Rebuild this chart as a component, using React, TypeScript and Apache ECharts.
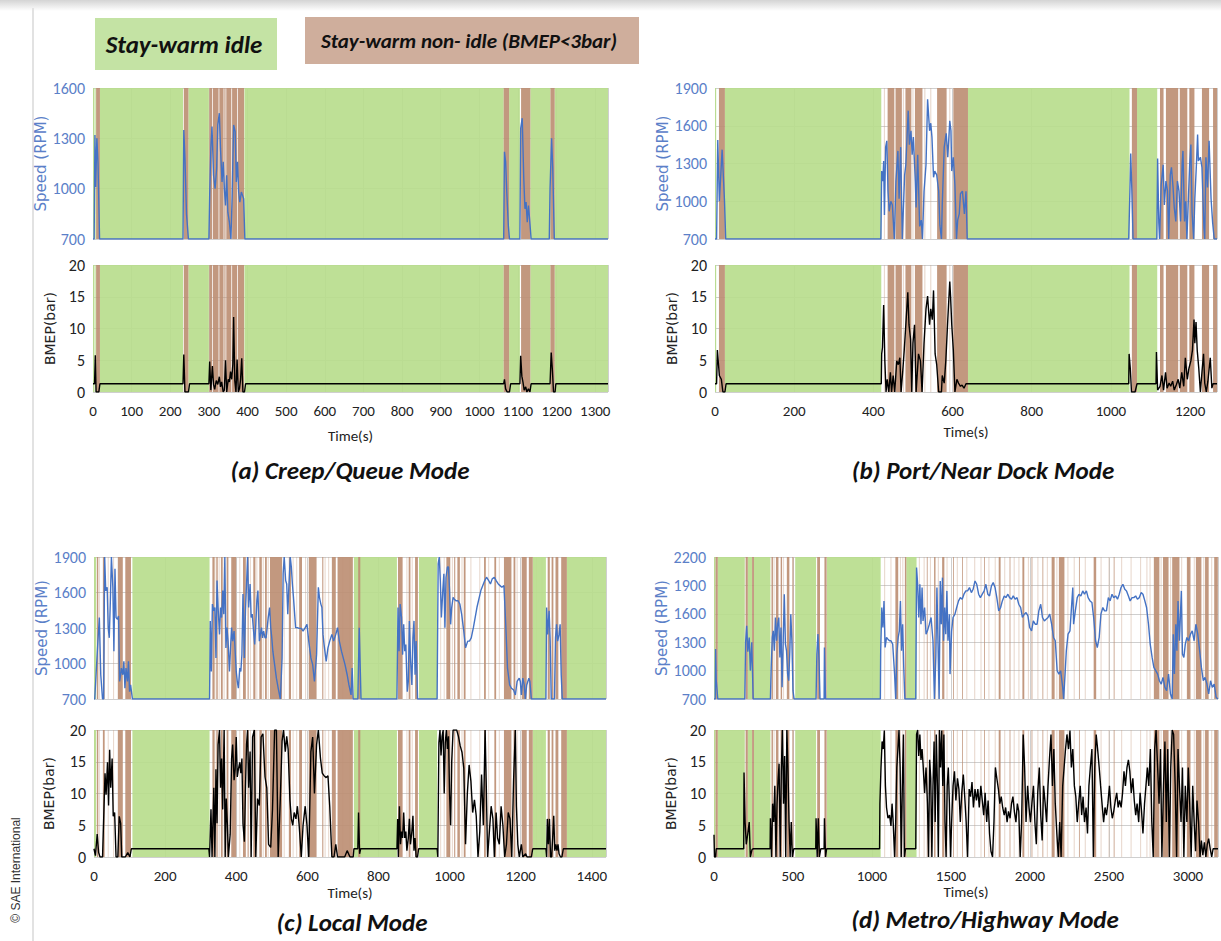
import React, { useEffect, useRef } from "react";
import * as echarts from "echarts";

// ---------------- DATA ----------------
// Panel (a) Creep/Queue
const speedA: number[][] = [[0,700],[3,700],[5,1320],[7,1010],[10,1300],[13,1150],[17,700],
[233,700],[235,1350],[238,1180],[242,850],[247,700],
[300,700],[302,960],[305,1240],[308,1370],[312,1080],[316,1000],[320,1120],[323,1380],[327,1450],[330,1240],[334,1040],[337,1160],[340,1000],[343,900],[346,1080],[349,860],[353,800],[357,700],[360,940],[364,1380],[368,1340],[371,1040],[374,1160],[377,980],[380,920],[384,980],[387,960],[390,940],[393,700],
[1063,700],[1065,1220],[1068,1160],[1071,980],[1075,780],[1078,700],
[1105,700],[1107,1360],[1111,1420],[1115,1060],[1118,880],[1121,920],[1124,800],[1127,900],[1130,820],[1134,700],
[1181,700],[1183,1000],[1187,1300],[1190,1120],[1194,700],[1333,700]];
const bmepA: number[][] = [[0,1.3],[4,1.3],[6,5.8],[8,0],[15,0],[18,1.3],
[233,1.3],[235,5.9],[238,0],[247,0],[250,1.3],
[300,1.3],[302,4.8],[305,0.3],[309,4.1],[312,1.2],[315,0.4],[319,1.8],[323,1.2],[327,2.4],[330,0.8],[333,1.6],[337,0],[340,0.3],[343,5],[346,0],[350,2],[353,1.6],[356,3.2],[359,2],[362,4.4],[364,11.8],[367,1.8],[370,0],[373,5.1],[376,0],[379,0.5],[382,2],[385,5.3],[388,0],[392,0],[395,1.3],
[1063,1.3],[1065,2],[1068,0.5],[1072,0],[1078,0],[1081,1.3],
[1105,1.3],[1107,5.7],[1110,2.5],[1113,1.5],[1116,0.3],[1120,0.8],[1123,0],[1127,0.5],[1131,0],[1134,1.3],
[1183,1.3],[1186,6.2],[1189,3.5],[1192,0],[1196,0],[1198,1.3],[1333,1.3]];
const idleA: number[][] = [[0,4],[6,8],[18,233],[247,300],[392,1063],[1077,1105],[1132,1184],[1195,1333]];
const nonIdleA: number[][] = [[8,18],[235,247],[301,308],[310,325],[327,338],[340,343],[345,358],[360,373],[375,391],[1063,1077],[1108,1132],[1184,1195]];
const thinA: number[] = [];

// Panel (b) Port/Near Dock
const speedB: number[][] = [[0,700],[4,700],[7,1487],[11,1000],[18,1410],[24,1000],[27,700],
[419,700],[421,1240],[424,1160],[426,1320],[428,890],[431,1430],[434,1480],[437,1080],[440,920],[444,1000],[448,970],[453,700],[457,1160],[462,1400],[465,1020],[469,1430],[473,700],[479,1210],[482,1290],[488,1720],[491,1450],[495,1560],[498,1370],[501,1510],[506,1160],[508,950],[512,1370],[515,1020],[517,800],[521,850],[524,700],[528,1080],[533,1290],[537,1810],[542,1560],[545,1620],[548,1510],[552,1190],[555,1240],[560,1210],[565,1080],[568,810],[572,700],[574,970],[579,1430],[584,1540],[588,1350],[593,1640],[596,1560],[598,1240],[602,1350],[606,1130],[610,700],[613,850],[617,900],[620,1060],[625,1080],[630,900],[634,1080],[637,700],
[1045,700],[1048,1080],[1050,1380],[1053,1080],[1056,700],
[1116,700],[1118,1340],[1121,830],[1123,700],[1127,1130],[1132,1290],[1135,970],[1139,1160],[1143,1080],[1146,700],[1150,1210],[1153,1270],[1157,1110],[1160,950],[1164,840],[1168,1160],[1172,1080],[1176,840],[1180,1300],[1182,1400],[1186,840],[1189,1000],[1192,700],[1196,1050],[1199,1290],[1202,1450],[1205,910],[1209,700],[1212,1020],[1216,1290],[1219,1530],[1221,1320],[1226,1350],[1230,1270],[1235,790],[1237,700],[1240,1350],[1244,1110],[1248,1480],[1253,1020],[1257,830],[1261,700],[1268,700]];
const bmepB: number[][] = [[0,1.3],[4,1.3],[6,6.6],[11,2.6],[16,2],[20,0],[25,0],[28,1.3],
[420,1.3],[421,6],[423,7],[426,13.7],[429,4.9],[432,0],[435,2],[439,0],[443,3.1],[446,0],[450,2.6],[454,0],[459,4.9],[463,4.3],[467,5.4],[470,0],[474,3.1],[478,6.6],[482,10.6],[487,15.7],[490,10.6],[494,8.3],[497,0],[500,7.7],[504,10.6],[508,0],[514,6],[519,4.9],[523,0],[528,7.7],[533,13.1],[537,15.1],[542,10.6],[545,13.1],[549,11.4],[552,16],[556,6],[560,4.3],[565,0],[572,0],[574,2.6],[579,1.4],[583,4.9],[588,11.4],[593,17.4],[595,15.1],[598,10.6],[602,6.6],[606,0],[611,2],[615,1.4],[620,0.9],[624,1.1],[629,0.6],[634,1.3],
[1045,1.3],[1046,6],[1049,3.7],[1052,0],[1061,0],[1066,1.3],
[1114,1.3],[1115,6.3],[1118,0.3],[1124,0.9],[1129,2.6],[1133,0.3],[1138,3.1],[1142,0.6],[1147,1.4],[1151,0.9],[1156,1.7],[1160,0.3],[1165,1.1],[1170,2],[1174,0.6],[1179,3.1],[1184,0.9],[1188,5.4],[1193,2],[1197,3.7],[1202,4.9],[1206,6.6],[1210,11.4],[1212,7.7],[1215,11],[1218,6.6],[1222,3.7],[1226,0],[1230,3.1],[1234,6],[1237,1.4],[1241,0],[1245,1.7],[1251,5.4],[1255,0.6],[1258,1.3],[1268,1.3]];
const idleB: number[][] = [[0,3],[25,420],[639,1047],[1066,1117]];
const nonIdleB: number[][] = [[10,25],[436,453],[456,472],[481,496],[505,524],[561,585],[602,639],[1053,1066],[1124,1133],[1139,1170],[1174,1193],[1198,1211],[1230,1248],[1258,1268]];
const thinB: number[] = [428, 476, 500, 530, 545, 593];

// Panel (c) Local
const speedC: number[][] = [[0,700],[2,700],[11,1189],[15,1388],[19,905],[24,700],[27,700],[30,1900],[33,1616],[37,1644],[40,1303],[43,1217],[46,1530],[49,1900],[53,1644],[56,1104],[59,1800],[62,1388],[66,1374],[69,1402],[72,848],[75,905],[77,961],[81,905],[84,1018],[87,791],[90,961],[94,848],[97,1018],[100,762],[103,819],[108,700],
[325,700],[327,1360],[330,933],[333,1502],[337,1445],[340,1473],[343,1047],[346,1701],[349,1473],[353,1246],[356,1473],[359,1388],[362,1616],[365,1417],[368,1900],[371,1132],[374,1303],[377,1189],[381,933],[384,1132],[387,1303],[390,1189],[394,1274],[397,1104],[400,933],[403,848],[406,791],[410,961],[413,933],[416,1075],[419,1587],[423,1047],[426,1445],[429,1672],[432,1900],[435,1473],[439,1672],[442,1388],[445,1417],[448,1303],[452,1161],[455,1331],[458,1530],[461,1616],[465,1189],[468,1246],[471,1303],[474,1217],[477,1274],[481,1217],[484,1217],[487,1303],[490,1388],[494,1473],[497,1303],[500,1217],[503,1104],[508,990],[513,876],[518,791],[524,700],[529,1047],[532,1758],[535,1900],[539,1701],[542,1672],[545,1417],[548,1644],[552,1900],[555,1815],[558,1672],[561,1559],[567,1303],[572,1303],[577,1297],[583,1297],[588,1274],[594,1303],[599,1331],[604,1189],[610,1047],[615,990],[620,848],[626,1075],[631,1644],[634,1559],[638,1502],[641,1473],[644,1246],[647,1161],[653,1018],[658,1132],[663,1189],[669,1246],[674,1189],[680,1246],[685,1303],[690,1189],[696,1104],[701,1047],[706,990],[712,905],[717,819],[723,734],[726,961],[729,700],
[742,700],[746,1303],[751,700],
[852,700],[855,1473],[858,1104],[861,1502],[865,1388],[868,1075],[871,1331],[874,1104],[877,1161],[881,762],[884,848],[887,1360],[890,1047],[894,819],[897,1217],[900,1360],[903,905],[906,1189],[910,700],
[965,700],[968,1843],[971,1900],[974,1701],[977,1388],[981,1616],[984,1758],[987,1303],[990,1729],[994,1815],[997,1815],[1000,1616],[1003,1331],[1006,1473],[1010,1559],[1013,1545],[1018,1530],[1024,1530],[1029,1502],[1034,1417],[1040,1274],[1045,1132],[1051,1189],[1056,1189],[1061,1217],[1067,1303],[1077,1473],[1088,1616],[1099,1701],[1104,1729],[1110,1701],[1115,1672],[1120,1715],[1126,1729],[1131,1701],[1137,1672],[1142,1658],[1147,1644],[1153,1658],[1158,1331],[1163,961],[1169,819],[1174,791],[1180,777],[1185,734],[1190,848],[1196,876],[1199,848],[1202,734],[1206,876],[1210,819],[1213,700],[1217,819],[1223,876],[1226,848],[1230,700],
[1271,700],[1273,1473],[1276,1246],[1280,1445],[1283,1189],[1286,700],[1295,700],[1298,1217],[1301,1331],[1304,1189],[1308,1246],[1311,1331],[1314,905],[1317,700],[1440,700]];
const bmepC: number[][] = [[0,1.3],[4,0.2],[9,3.6],[13,0.7],[17,0],[24,0],[28,7.5],[31,13.2],[34,9.8],[38,14.9],[41,8.1],[44,16.9],[47,10.9],[51,15.5],[54,6.4],[58,7],[62,0],[67,0],[71,6.4],[75,5.3],[78,0],[88,0],[95,0.7],[101,0],[105,1.3],
[323,1.3],[325,0],[329,7.5],[332,0],[337,10.9],[340,0],[343,13.8],[346,5.3],[349,17.7],[353,20],[356,10.9],[359,15.5],[362,7.5],[366,20],[369,0],[372,9.2],[375,5.3],[378,0],[383,3.6],[387,15.5],[390,17.7],[394,12.1],[397,13.8],[400,18.9],[403,12.6],[406,13.8],[410,14.9],[413,13.2],[416,15.5],[419,5.3],[423,2.4],[426,10.9],[429,17.7],[432,20],[435,10.9],[439,16.6],[442,0],[446,18.9],[451,20],[455,0],[460,9.2],[465,8.1],[470,18.9],[475,19.4],[481,12.6],[486,10.9],[491,2],[497,1.5],[502,7.5],[508,20],[513,20],[518,0],[524,9.2],[529,18.3],[533,20],[538,16.6],[542,19],[546,17],[551,9],[555,6],[559,5],[563,7],[568,6],[572,8],[577,5],[583,0],[588,5],[594,8],[599,5],[604,0],[610,16.6],[615,18.9],[620,10],[626,17.7],[631,20],[637,15.5],[642,13.2],[647,12.8],[653,12.5],[658,12.8],[663,8],[669,0],[675,0],[680,2],[685,0],[705,0],[712,1],[720,0],[729,0],[731,1.3],[742,1.3],[744,7],[747,0.5],[750,1.3],
[852,1.3],[854,6],[856,0],[859,8],[862,2],[865,4],[868,3],[871,7],[874,3],[877,4],[880,1],[884,3],[887,6],[890,2],[894,4],[897,6.5],[900,1],[903,3],[906,0],[910,0],[913,1.3],
[965,1.3],[967,0],[970,18],[973,20],[976,16],[979,19],[982,20],[985,10],[988,18],[991,20],[994,17],[997,19],[1000,10],[1003,5],[1006,15],[1010,20],[1015,20],[1020,20],[1025,19],[1030,17.5],[1035,16.5],[1040,14],[1045,2],[1050,10],[1055,14.5],[1060,12],[1065,7],[1070,9],[1075,6.5],[1080,0],[1085,4],[1090,13],[1095,5],[1100,20],[1103,12],[1107,0],[1112,4],[1117,8],[1122,6],[1126,0],[1131,7],[1135,3],[1140,2],[1145,8],[1150,5],[1155,0],[1160,2],[1165,7],[1170,6],[1175,0],[1180,12],[1185,20],[1188,8],[1192,2],[1196,0],[1202,2],[1206,0],[1214,0.5],[1218,0],[1230,0],[1234,1.3],
[1271,1.3],[1273,0],[1275,6],[1278,2],[1281,6],[1284,0],[1287,0],[1290,3],[1293,6.5],[1296,1],[1299,2],[1302,1],[1305,2],[1308,0.5],[1312,0],[1316,0],[1320,1.3],[1440,1.3]];
const idleC: number[][] = [[0,6],[108,325],[731,852],[914,965],[1234,1271],[1330,1440]];
const nonIdleC: number[][] = [[8,12],[25,30],[67,81],[88,104],[333,339],[344,348],[357,362],[373,378],[386,400],[419,427],[432,435],[448,454],[465,472],[481,486],[495,529],[548,554],[577,585],[604,626],[642,645],[669,680],[685,728],[743,749],[855,868],[885,890],[903,911],[991,1002],[1013,1016],[1022,1029],[1040,1045],[1097,1102],[1126,1131],[1153,1174],[1180,1185],[1203,1217],[1223,1234],[1276,1282],[1287,1292],[1298,1306],[1314,1330]];
const thinC: number[] = [15, 40, 55, 340, 352, 366, 392, 410, 440, 458, 476, 490, 535, 560, 570, 595, 650, 660, 700, 720, 880, 895, 975, 985, 1008, 1035, 1060, 1085, 1110, 1140, 1190, 1245, 1260];

// Panel (d) Metro/Highway
const speedD: number[][] = [[0,700],[8,700],[10,1227],[14,900],[24,700],
[195,700],[200,1297],[207,1473],[214,1200],[223,1350],[230,1000],[239,1300],[248,700],
[357,700],[362,1034],[369,1350],[375,1420],[382,1209],[389,1561],[396,1315],[403,1490],[410,1561],[417,1139],[424,1455],[431,823],[438,1315],[445,1807],[452,1280],[459,1209],[466,963],[473,893],[480,1209],[486,1596],[493,1315],[500,788],[507,700],
[646,700],[651,1174],[658,1385],[665,1104],[671,700],
[697,700],[699,1244],[706,700],
[1053,700],[1055,1209],[1062,1666],[1069,1455],[1076,1736],[1083,1244],[1092,1350],[1101,1332],[1111,1315],[1120,1315],[1131,1280],[1143,963],[1150,700],[1157,1174],[1166,1350],[1173,1420],[1180,1736],[1187,1209],[1194,1490],[1201,1034],[1208,700],
[1277,700],[1282,2088],[1289,1912],[1296,1561],[1303,1912],[1310,1490],[1317,1877],[1323,1525],[1333,1666],[1342,1385],[1351,1420],[1363,1490],[1374,1561],[1386,1315],[1395,700],[1404,1139],[1411,1877],[1418,1280],[1425,700],[1432,1947],[1439,1490],[1446,1982],[1453,1315],[1460,1666],[1467,1385],[1474,1842],[1481,1315],[1490,1596],[1494,963],[1504,1420],[1513,1561],[1525,1596],[1536,1666],[1548,1736],[1559,1771],[1571,1754],[1582,1807],[1594,1842],[1605,1842],[1617,1877],[1629,1824],[1640,1859],[1652,1947],[1663,1912],[1675,1807],[1686,1771],[1698,1807],[1710,1842],[1721,1912],[1733,1807],[1744,1789],[1756,1894],[1767,1930],[1779,1877],[1790,1771],[1802,1631],[1814,1666],[1825,1736],[1837,1789],[1848,1771],[1860,1807],[1871,1771],[1883,1754],[1894,1789],[1906,1754],[1918,1771],[1929,1701],[1941,1666],[1952,1561],[1964,1596],[1975,1613],[1987,1578],[1998,1455],[2010,1420],[2021,1525],[2033,1490],[2045,1490],[2056,1631],[2068,1701],[2079,1561],[2091,1525],[2102,1543],[2114,1561],[2125,1596],[2137,1490],[2149,1350],[2160,1315],[2172,999],[2183,963],[2194,999],[2207,823],[2213,700],[2222,963],[2230,1209],[2241,1385],[2253,1420],[2264,1701],[2271,1877],[2276,1490],[2287,1631],[2299,1771],[2310,1807],[2322,1789],[2334,1842],[2345,1807],[2357,1842],[2368,1771],[2380,1736],[2392,1719],[2403,1561],[2415,1315],[2426,1244],[2438,1350],[2449,1596],[2461,1666],[2472,1631],[2484,1631],[2496,1771],[2507,1736],[2519,1807],[2530,1771],[2542,1789],[2554,1754],[2565,1807],[2576,1877],[2588,1912],[2600,1859],[2611,1842],[2623,1789],[2634,1736],[2646,1771],[2657,1771],[2669,1789],[2680,1754],[2692,1771],[2704,1824],[2715,1807],[2727,1736],[2738,1666],[2750,1490],[2761,1280],[2773,1139],[2784,1034],[2796,999],[2808,963],[2819,893],[2831,858],[2842,928],[2854,823],[2865,788],[2877,963],[2889,753],[2900,700],[2907,1385],[2914,963],[2923,1490],[2930,1209],[2937,1736],[2946,1315],[2958,1842],[2965,1174],[2974,1139],[2983,1280],[2993,1350],[3004,1315],[3016,1385],[3027,1420],[3039,1315],[3050,1490],[3062,1385],[3074,1209],[3085,1034],[3097,893],[3108,928],[3120,858],[3131,753],[3143,893],[3154,823],[3166,858],[3178,718],[3189,700]];
const bmepD: number[][] = [[0,3.5],[3,0],[10,0],[14,1.3],
[188,1.3],[190,13.3],[197,5.5],[204,2],[214,3.7],[223,5.5],[230,0],[241,1.2],[250,1.3],
[355,1.3],[357,6.1],[364,0],[371,8.4],[378,5.5],[385,11.2],[392,0],[399,8.4],[406,12.4],[412,14.7],[419,0],[426,13.5],[433,20],[440,8.4],[447,15.9],[454,0],[461,20],[468,14.1],[475,5.5],[482,0],[489,5.5],[496,0],[505,1.3],
[644,1.3],[646,6.1],[653,0],[660,6.1],[667,0],[676,1.3],
[697,1.3],[699,6.1],[706,0],[713,1.3],
[1048,1.3],[1050,8.4],[1057,14.1],[1064,18.2],[1071,17],[1078,19.9],[1085,11.2],[1092,7.8],[1101,6.1],[1111,6.6],[1120,4.9],[1127,8.4],[1134,5.5],[1143,0],[1150,5.5],[1157,14.1],[1164,17],[1171,20],[1178,14.1],[1185,0],[1192,11.2],[1199,19.3],[1205,0],[1212,1.3],
[1277,1.3],[1282,19.3],[1289,20],[1296,15.9],[1303,19.3],[1310,15.3],[1317,17],[1323,14.7],[1333,10.1],[1342,14.1],[1351,8.4],[1358,0],[1365,15.3],[1372,12.4],[1379,0],[1386,11.2],[1393,18.2],[1400,5.5],[1407,19.3],[1414,11.2],[1420,0],[1427,20],[1434,14.1],[1441,19.9],[1448,11.2],[1455,19.3],[1462,5.5],[1469,0],[1476,11.2],[1483,14.1],[1490,8.4],[1497,0],[1504,5.5],[1513,11.2],[1522,13.5],[1531,8.9],[1541,12.4],[1550,10.7],[1559,5.5],[1568,10.1],[1578,13],[1587,9.5],[1596,5.5],[1605,0],[1615,10.7],[1624,9.5],[1633,11.8],[1642,7.8],[1652,10.7],[1661,8.9],[1670,10.7],[1679,7.8],[1689,11.2],[1698,8.9],[1707,6.6],[1716,10.1],[1726,5.5],[1735,8.9],[1744,3.7],[1753,0.9],[1763,0],[1772,5.5],[1781,14.1],[1790,12.4],[1800,10.7],[1809,8.4],[1818,9.5],[1827,7.8],[1837,6.6],[1846,7.8],[1855,5.5],[1864,7.2],[1874,6.1],[1883,8.4],[1892,9.5],[1901,7.2],[1911,5.5],[1920,8.4],[1929,7.2],[1938,0],[1947,5.5],[1957,19.3],[1966,14.1],[1975,5.5],[1985,11.2],[1994,7.8],[2003,5.5],[2012,8.4],[2022,11.2],[2031,5.5],[2040,2],[2049,10.1],[2059,14.1],[2068,6.6],[2077,2.6],[2086,11.2],[2096,8.4],[2105,5.5],[2114,11.2],[2123,15.3],[2133,19.3],[2142,11.2],[2151,17],[2160,8.4],[2170,3.7],[2179,0],[2188,5.5],[2197,0],[2207,11.2],[2216,14.1],[2225,17],[2234,19.3],[2244,17],[2253,19.9],[2262,14.1],[2271,17],[2281,11.2],[2290,9.5],[2299,5.5],[2308,8.4],[2318,11.2],[2327,6.6],[2336,9.5],[2345,5.5],[2355,7.8],[2364,3.7],[2373,11.2],[2382,14.1],[2392,17],[2401,0],[2410,14.1],[2419,19.3],[2428,17],[2438,14.1],[2447,11.2],[2456,8.4],[2466,5.5],[2475,7.8],[2484,6.6],[2493,8.4],[2503,11.2],[2512,7.8],[2521,6.1],[2530,7.2],[2540,8.9],[2549,10.1],[2558,7.8],[2567,8.9],[2577,7.8],[2586,10.1],[2595,13.5],[2604,11.2],[2614,14.1],[2623,15.3],[2632,13.5],[2641,10.1],[2651,12.4],[2660,8.9],[2669,6.6],[2678,8.4],[2688,5.5],[2697,10.1],[2706,7.2],[2715,3.7],[2725,8.4],[2734,11.2],[2743,14.1],[2752,11.2],[2762,17],[2771,5.5],[2780,0],[2789,17],[2798,20],[2808,14.1],[2817,8.4],[2826,17],[2835,0],[2845,11.2],[2854,18.2],[2863,5.5],[2872,17],[2882,0],[2891,14.1],[2900,20],[2909,19.3],[2919,11.2],[2928,0],[2937,17],[2946,11.2],[2956,5.5],[2965,14.1],[2974,0],[2983,11.2],[2993,5.5],[3002,14.1],[3011,8.4],[3020,0],[3030,11.2],[3039,5.5],[3048,0.9],[3057,8.9],[3067,5.5],[3076,0],[3085,2.6],[3094,0.3],[3104,2.3],[3113,0],[3122,2],[3131,2.9],[3140,1.4],[3150,0],[3159,1.3],[3190,1.3]];
const idleD: number[][] = [[0,10],[24,195],[214,241],[253,357],[514,646],[715,1055],[1217,1282]];
const nonIdleD: number[][] = [[10,24],[200,214],[241,253],[364,373],[392,408],[422,431],[461,477],[496,503],[653,671],[699,713],[1148,1166],[1208,1217],[1347,1352],[1393,1402],[1444,1458],[1513,1518],[1571,1576],[1710,1715],[1802,1814],[1871,1876],[1952,1964],[2010,2015],[2079,2084],[2137,2156],[2183,2218],[2310,2315],[2403,2419],[2530,2535],[2784,2819],[2842,2877],[2900,2946],[2993,3016],[3050,3085],[3108,3131],[3166,3189]];
const thinD: number[] = [380, 440, 470, 1080, 1120, 1180, 1195, 1240, 1300, 1330, 1370, 1420, 1475, 1540, 1600, 1650, 1690, 1740, 1780, 1840, 1900, 1930, 1990, 2050, 2110, 2170, 2240, 2280, 2350, 2450, 2500, 2580, 2640, 2700, 2740, 2760, 2830, 2890, 2960, 3040, 3100, 3150];

const legendLabels = ["Stay-warm idle", "Stay-warm non- idle (BMEP<3bar)"];
const panelTitles = ["(a) Creep/Queue Mode", "(b) Port/Near Dock Mode", "(c) Local Mode", "(d) Metro/Highway Mode"];

// ---------------- STYLE / LAYOUT ----------------
const FONT = "Carlito, 'Liberation Sans Narrow', 'Open Sans', sans-serif";
const GREEN = "rgba(185,221,141,0.92)";
const BROWN = "rgba(189,143,116,0.92)";
const THIN = "rgba(200,160,135,0.4)";
const BLUE = "#4472c4";
const BLUE_LABEL = "#5b80c8";
const GRIDC = "#cfcfcf";
const OFF = 100; // display offset so tick values align with interval

const panels = [
  { speed: speedA, bmep: bmepA, idle: idleA, non: nonIdleA, thin: thinA, thinHalf: 2, xMax: 1333, xInt: 100, sMin: 700, sMax: 1600,
    sg: [93, 88, 515, 151], bg: [93, 265, 515, 127], nameGap: 36, tGap: 36 },
  { speed: speedB, bmep: bmepB, idle: idleB, non: nonIdleB, thin: thinB, thinHalf: 1.5, xMax: 1268, xInt: 200, sMin: 700, sMax: 1900,
    sg: [715, 88, 502, 151], bg: [715, 265, 502, 127], nameGap: 36, tGap: 32 },
  { speed: speedC, bmep: bmepC, idle: idleC, non: nonIdleC, thin: thinC, thinHalf: 1.5, xMax: 1440, xInt: 200, sMin: 700, sMax: 1900,
    sg: [94, 557, 512, 142], bg: [94, 730, 512, 127], nameGap: 38, tGap: 28 },
  { speed: speedD, bmep: bmepD, idle: idleD, non: nonIdleD, thin: thinD, thinHalf: 3.5, xMax: 3190, xInt: 500, sMin: 700, sMax: 2200,
    sg: [714, 557, 504, 142], bg: [714, 730, 504, 127], nameGap: 36, tGap: 27 },
];

function buildOption() {
  const grid: any[] = [];
  const xAxis: any[] = [];
  const yAxis: any[] = [];
  const series: any[] = [];
  panels.forEach((p) => {
    ["speed", "bmep"].forEach((kind) => {
      const gi = grid.length;
      const g = kind === "speed" ? p.sg : p.bg;
      grid.push({ left: g[0], top: g[1], width: g[2], height: g[3], containLabel: false });
      const isB = kind === "bmep";
      xAxis.push({
        type: "value", gridIndex: gi, min: 0, max: p.xMax, interval: p.xInt,
        axisLine: { show: false }, axisTick: { show: false },
        splitLine: { show: true, lineStyle: { color: GRIDC, width: 1 } },
        axisLabel: { show: isB, fontSize: 15, color: "#222", fontFamily: FONT, margin: 11, showMaxLabel: false, formatter: (v: number) => String(v) },
        name: isB ? "Time(s)" : "", nameLocation: "middle", nameGap: p.tGap,
        nameTextStyle: { fontSize: 15, color: "#222", fontFamily: FONT },
      });
      if (isB) {
        yAxis.push({
          type: "value", gridIndex: gi, min: 0, max: 20, interval: 5,
          axisLine: { show: false }, axisTick: { show: false },
          splitLine: { show: true, lineStyle: { color: GRIDC } },
          axisLabel: { fontSize: 16, color: "#222", fontFamily: FONT, margin: 8 },
          name: "BMEP(bar)", nameLocation: "middle", nameGap: p.nameGap, nameRotate: 90,
          nameTextStyle: { fontSize: 14, color: "#222", fontFamily: "'DejaVu Sans', sans-serif" },
        });
      } else {
        yAxis.push({
          type: "value", gridIndex: gi, min: p.sMin - OFF, max: p.sMax - OFF, interval: 300,
          axisLine: { show: false }, axisTick: { show: false },
          splitLine: { show: true, lineStyle: { color: GRIDC } },
          axisLabel: { fontSize: 16, color: BLUE_LABEL, fontFamily: FONT, margin: 8, formatter: (v: number) => String(v + OFF) },
          name: "Speed (RPM)", nameLocation: "middle", nameGap: p.nameGap, nameRotate: 90,
          nameTextStyle: { fontSize: 15, color: BLUE_LABEL, fontFamily: "'DejaVu Sans', sans-serif" },
        });
      }
      const areas: any[] = [
        ...p.thin.map((c) => [{ xAxis: c - p.thinHalf, itemStyle: { color: THIN } }, { xAxis: c + p.thinHalf }]),
        ...p.idle.map(([a, b]) => [{ xAxis: a, itemStyle: { color: GREEN } }, { xAxis: b }]),
        ...p.non.map(([a, b]) => [{ xAxis: a, itemStyle: { color: BROWN } }, { xAxis: b }]),
      ];
      const src = isB ? p.bmep : p.speed;
      series.push({
        type: "line", xAxisIndex: gi, yAxisIndex: gi,
        data: isB ? src.map(([t, v]) => [t, v]) : src.map(([t, v]) => [t, v - OFF]),
        symbol: "none", z: 3, silent: true,
        lineStyle: { color: isB ? "#000" : BLUE, width: 1.4 },
        markArea: { silent: true, z: 1, label: { show: false }, data: areas },
      });
    });
  });

  const ttl = (text: string, x: number, y: number, size: number) => ({
    type: "text", x, y, z: 10,
    style: { text, fontSize: size, fontWeight: "bold", fontStyle: "italic", fontFamily: FONT, fill: "#111", align: "center", verticalAlign: "middle" },
  });

  const graphic: any[] = [
    { type: "rect", shape: { x: 0, y: 0, width: 1221, height: 11 }, z: 0,
      style: { fill: new echarts.graphic.LinearGradient(0, 0, 0, 1, [{ offset: 0, color: "#d4d4d4" }, { offset: 1, color: "#ffffff" }]) } },
    { type: "line", shape: { x1: 33, y1: 8, x2: 33, y2: 941 }, style: { stroke: "#e2e2e2", lineWidth: 2 } },
    { type: "rect", shape: { x: 95, y: 18, width: 182, height: 52 }, style: { fill: "#c4e3a4" } },
    { type: "rect", shape: { x: 305, y: 17, width: 334, height: 47 }, style: { fill: "#cfae9c" } },
    ttl(legendLabels[0], 184, 44, 25),
    ttl(legendLabels[1], 469, 41, 21),
    ttl(panelTitles[0], 350, 470, 25),
    ttl(panelTitles[1], 983, 470, 25),
    ttl(panelTitles[2], 352, 922, 25),
    ttl(panelTitles[3], 985, 919, 25),
    { type: "text", x: 16, y: 870, rotation: Math.PI / 2,
      style: { text: "© SAE International", fontSize: 12, fontFamily: "'Liberation Sans', Arial, sans-serif", fill: "#333", align: "center", verticalAlign: "middle" } },
  ];

  return { animation: false, backgroundColor: "#ffffff", grid, xAxis, yAxis, series, graphic };
}

export default function App() {
  const ref = useRef<HTMLDivElement>(null);
  useEffect(() => {
    if (!ref.current) return;
    const chart = echarts.init(ref.current, undefined, { renderer: "svg" });
    chart.setOption(buildOption() as any);
    return () => chart.dispose();
  }, []);
  return <div ref={ref} style={{ position: "fixed", left: 0, top: 0, width: 1221, height: 941, background: "#fff" }} />;
}
